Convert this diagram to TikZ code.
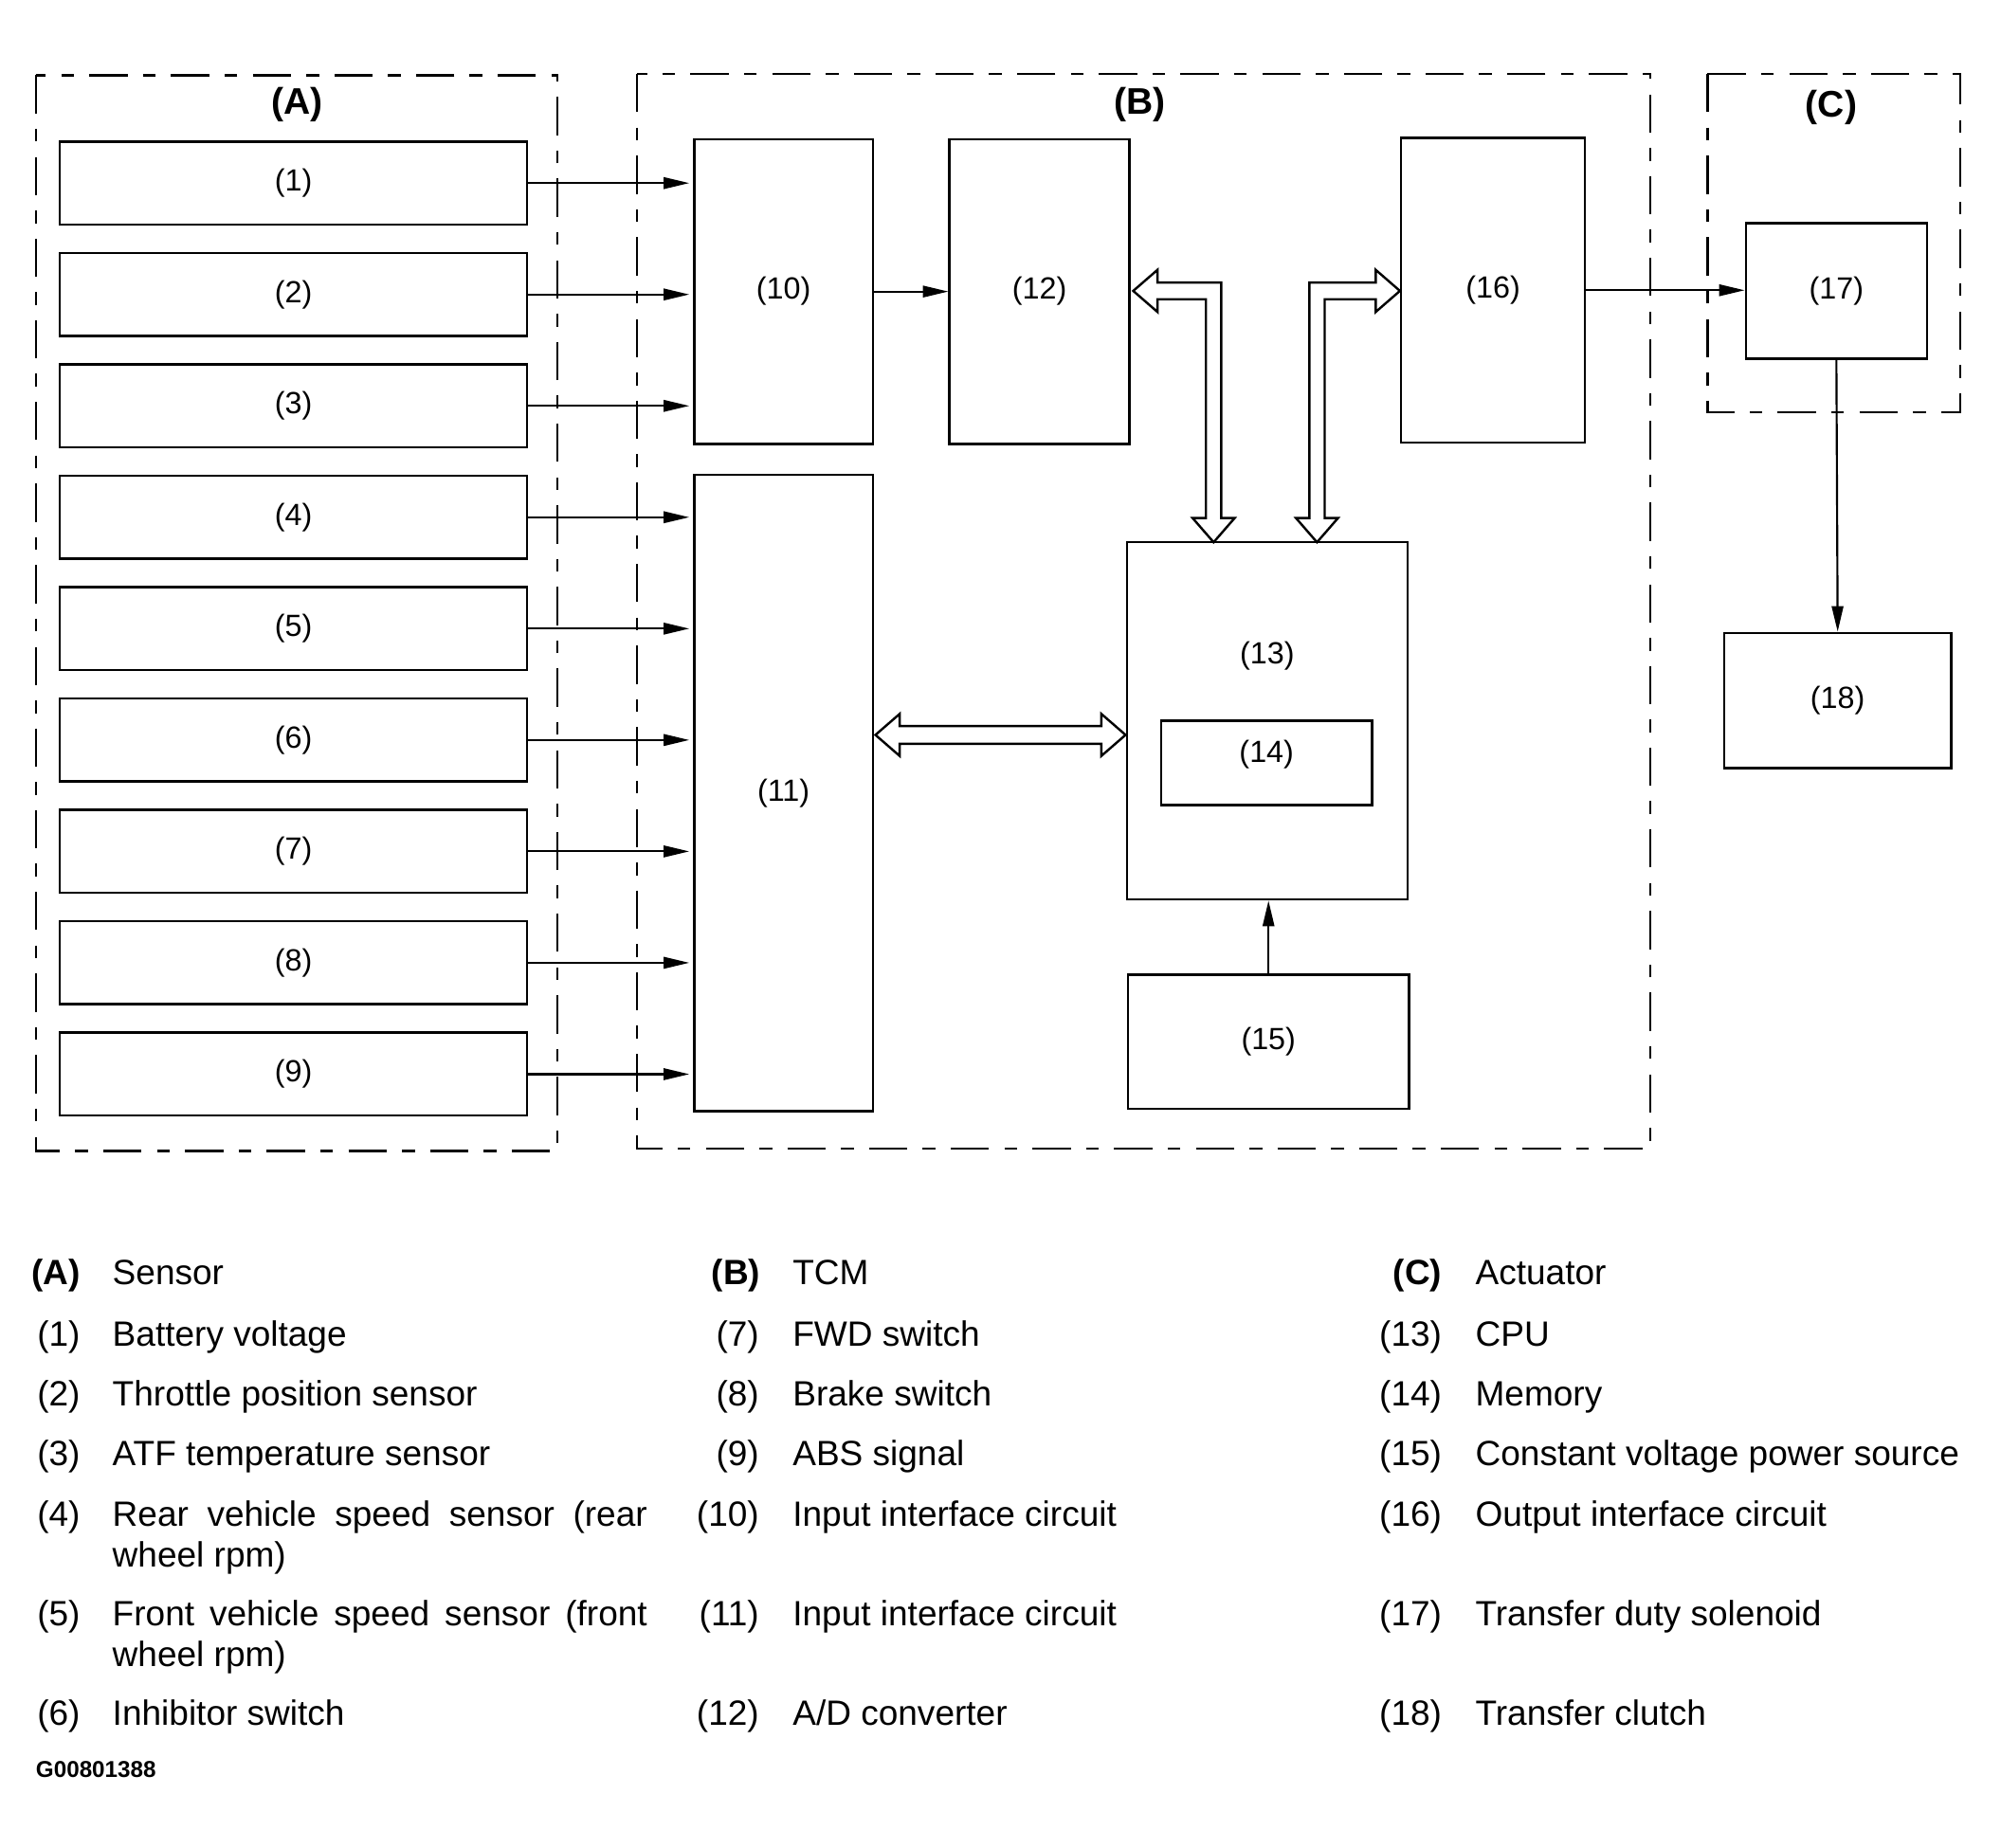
\documentclass[tikz,border=0pt]{standalone}
\usepackage{fontspec}
\setmainfont{Liberation Sans}
\usetikzlibrary{arrows.meta,calc}
\newcommand\legfont{\fontsize{27.5}{32}\selectfont}
\newcommand\boxfont{\fontsize{24}{28}\selectfont}
\newcommand\grpfont{\fontsize{29}{34}\selectfont\bfseries}
\begin{document}
\begin{tikzpicture}[x=1pt,y=-1pt,
  box/.style={draw, line width=1.8pt, inner sep=0pt, font=\boxfont},
  grp/.style={draw, line width=1.7pt, dash pattern=on 30pt off 12pt on 10pt off 12pt},
  sig/.style={line width=1.6pt, -{Triangle[length=20pt,width=9pt]}},
  hollow/.style={draw, line width=1.8pt, fill=white, line join=miter},
  lnum/.style={anchor=base east, inner sep=0pt, font=\legfont},
  ltxt/.style={anchor=base west, inner sep=0pt, font=\legfont},
  lbl/.style={inner sep=0pt, font=\boxfont}]
\useasboundingbox (0,0) rectangle (1568,1448);

% group frames
\draw[grp] (28,59) rectangle (437,902);
\draw[grp] (499,58) rectangle (1293,900);
\draw[grp] (1338,58) rectangle (1536,323);
\node[inner sep=0pt, font=\grpfont] (gA) at (233,82) {(A)};
\node[inner sep=0pt, font=\grpfont] (gB) at (893,82) {(B)};
\node[inner sep=0pt, font=\grpfont] (gC) at (1435,84) {(C)};

% sensor boxes
\foreach \i in {1,...,9}{
  \node[box, minimum width=366pt, minimum height=65pt] (n\i) at (230,{143.5+(\i-1)*87.3}) {(\i)};
}

% TCM blocks
\node[box, minimum width=140pt, minimum height=239pt] (n10) at (614,228.5) {(10)};
\node[box, minimum width=140pt, minimum height=499pt] (n11) at (614,621.5) {(11)};
\node[box, minimum width=141pt, minimum height=239pt] (n12) at (814.5,228.5) {(12)};
\node[box, minimum width=144pt, minimum height=239pt] (n16) at (1170,227.5) {(16)};
\node[box, minimum width=220pt, minimum height=280pt] (n13) at (993,565) {};
\node[lbl] (l13) at (993,514) {(13)};
\node[box, minimum width=165pt, minimum height=66pt] (n14) at (992.5,598) {};
\node[lbl] (l14) at (992.5,591) {(14)};
\node[box, minimum width=220pt, minimum height=105pt] (n15) at (994,816.5) {(15)};

% actuator blocks
\node[box, minimum width=142pt, minimum height=106pt] (n17) at (1439,228) {(17)};
\node[box, minimum width=178pt, minimum height=106pt] (n18) at (1440,549) {(18)};

% signal arrows
\foreach \i in {1,2,3}{
  \draw[sig] (n\i.east) -- ($(n\i.east -| n10.west)+(-3,0)$);
}
\foreach \i in {4,...,9}{
  \draw[sig] (n\i.east) -- ($(n\i.east -| n11.west)+(-3,0)$);
}
\draw[sig] (n10.east) -- (n12.west);
\draw[sig] (n16.east) -- (n16.east -| n17.west);
\draw[sig] (n17.south) -- (n18.north);
\draw[sig] (n15.north) -- (n15.north |- n13.south);

% hollow bus arrows
\coordinate (h11) at (686,576);
\coordinate (h13) at (882,576);
\draw[hollow] (h11) -- ++(19,-16.5) -- ++(0,9.5) -- ($(h13)+(-19,-7)$) -- ++(0,-9.5)
  -- (h13) -- ++(-19,16.5) -- ++(0,-9.5) -- ($(h11)+(19,7)$) -- ++(0,9.5) -- cycle;

\coordinate (p12) at (888,228);
\coordinate (p13a) at (951,425);
\draw[hollow] (p12) -- (907,211.5) -- (907,221.5) -- (957,221.5) -- (957,406) -- (967.5,406)
  -- (p13a) -- (934.5,406) -- (945,406) -- (945,234.5) -- (907,234.5) -- (907,244.5) -- cycle;

\coordinate (p16) at (1097,228);
\coordinate (p13b) at (1032,425);
\draw[hollow] (p16) -- (1078,211.5) -- (1078,221.5) -- (1026,221.5) -- (1026,406) -- (1015.5,406)
  -- (p13b) -- (1048.5,406) -- (1038,406) -- (1038,234.5) -- (1078,234.5) -- (1078,244.5) -- cycle;

% legend column 1
\node[lnum, font=\legfont\bfseries] (kA) at (63,1007) {(A)};
\node[ltxt] (tA) at (88,1007) {Sensor};
\node[lnum] (k1) at (63,1055) {(1)};
\node[ltxt] (t1) at (88,1055) {Battery voltage};
\node[lnum] (k2) at (63,1102) {(2)};
\node[ltxt] (t2) at (88,1102) {Throttle position sensor};
\node[lnum] (k3) at (63,1149) {(3)};
\node[ltxt] (t3) at (88,1149) {ATF temperature sensor};
\node[lnum] (k4) at (63,1196) {(4)};
\node[ltxt] (t4) at (88,1196) {\makebox[419pt][s]{Rear vehicle speed sensor (rear}};
\node[ltxt] (t4b) at (88,1228) {wheel rpm)};
\node[lnum] (k5) at (63,1274) {(5)};
\node[ltxt] (t5) at (88,1274) {\makebox[419pt][s]{Front vehicle speed sensor (front}};
\node[ltxt] (t5b) at (88,1306) {wheel rpm)};
\node[lnum] (k6) at (63,1352) {(6)};
\node[ltxt] (t6) at (88,1352) {Inhibitor switch};
\node[anchor=base west, inner sep=0pt, font=\fontsize{18}{21}\selectfont\bfseries] (code) at (28,1393) {G00801388};

% legend column 2
\node[lnum, font=\legfont\bfseries] (kB) at (596,1007) {(B)};
\node[ltxt] (tB) at (621,1007) {TCM};
\node[lnum] (k7) at (595,1055) {(7)};
\node[ltxt] (t7) at (621,1055) {FWD switch};
\node[lnum] (k8) at (595,1102) {(8)};
\node[ltxt] (t8) at (621,1102) {Brake switch};
\node[lnum] (k9) at (595,1149) {(9)};
\node[ltxt] (t9) at (621,1149) {ABS signal};
\node[lnum] (k10) at (595,1196) {(10)};
\node[ltxt] (t10) at (621,1196) {Input interface circuit};
\node[lnum] (k11) at (595,1274) {(11)};
\node[ltxt] (t11) at (621,1274) {Input interface circuit};
\node[lnum] (k12) at (595,1352) {(12)};
\node[ltxt] (t12) at (621,1352) {A/D converter};

% legend column 3
\node[lnum, font=\legfont\bfseries] (kC) at (1130,1007) {(C)};
\node[ltxt] (tC) at (1156,1007) {Actuator};
\node[lnum] (k13) at (1130,1055) {(13)};
\node[ltxt] (t13) at (1156,1055) {CPU};
\node[lnum] (k14) at (1130,1102) {(14)};
\node[ltxt] (t14) at (1156,1102) {Memory};
\node[lnum] (k15) at (1130,1149) {(15)};
\node[ltxt] (t15) at (1156,1149) {Constant voltage power source};
\node[lnum] (k16) at (1130,1196) {(16)};
\node[ltxt] (t16) at (1156,1196) {Output interface circuit};
\node[lnum] (k17) at (1130,1274) {(17)};
\node[ltxt] (t17) at (1156,1274) {Transfer duty solenoid};
\node[lnum] (k18) at (1130,1352) {(18)};
\node[ltxt] (t18) at (1156,1352) {Transfer clutch};
\end{tikzpicture}
\end{document}
